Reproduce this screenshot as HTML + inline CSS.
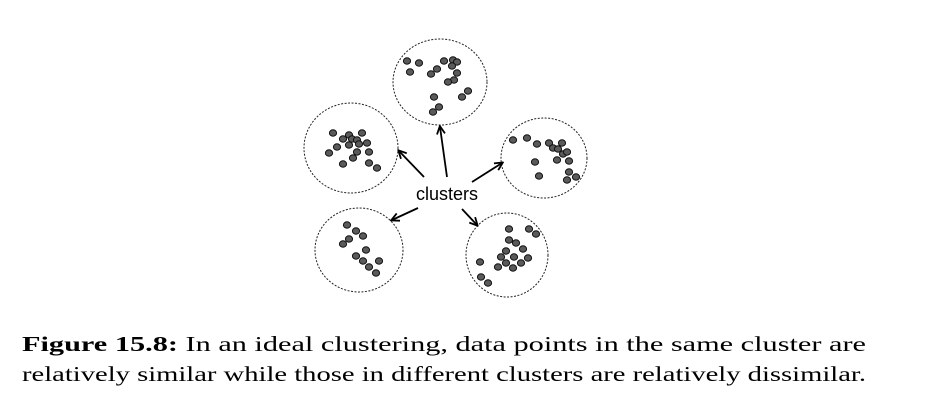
<!DOCTYPE html>
<html><head><meta charset="utf-8"><style>
html,body{margin:0;padding:0;background:#fff;width:934px;height:407px;overflow:hidden}
</style></head><body>
<svg width="934" height="407" viewBox="0 0 934 407" xmlns="http://www.w3.org/2000/svg">
<defs>
<marker id="ah" markerWidth="10" markerHeight="10" refX="8" refY="5" orient="auto" markerUnits="userSpaceOnUse">
<path d="M1,1 L9,5 L1,9" fill="none" stroke="#000" stroke-width="1.8"/>
</marker>
</defs>
<g fill="none" stroke="#222" stroke-width="1" stroke-dasharray="2,1.5">
<ellipse cx="440" cy="82" rx="47" ry="43"/>
<ellipse cx="351" cy="148" rx="47" ry="45"/>
<ellipse cx="544" cy="158" rx="43" ry="40"/>
<ellipse cx="359" cy="250" rx="44" ry="42"/>
<ellipse cx="507" cy="255" rx="41" ry="42"/>
</g>
<g fill="#5a5a5a" stroke="#111" stroke-width="1">
<ellipse cx="407" cy="61" rx="3.6" ry="3.2"/><ellipse cx="419" cy="63" rx="3.6" ry="3.2"/><ellipse cx="410" cy="72" rx="3.6" ry="3.2"/><ellipse cx="444" cy="61" rx="3.6" ry="3.2"/><ellipse cx="453" cy="60" rx="3.6" ry="3.2"/><ellipse cx="457" cy="62" rx="3.6" ry="3.2"/><ellipse cx="452" cy="66" rx="3.6" ry="3.2"/><ellipse cx="437" cy="69" rx="3.6" ry="3.2"/><ellipse cx="431" cy="74" rx="3.6" ry="3.2"/><ellipse cx="457" cy="73" rx="3.6" ry="3.2"/><ellipse cx="454" cy="80" rx="3.6" ry="3.2"/><ellipse cx="448" cy="82" rx="3.6" ry="3.2"/><ellipse cx="468" cy="91" rx="3.6" ry="3.2"/><ellipse cx="462" cy="97" rx="3.6" ry="3.2"/><ellipse cx="434" cy="97" rx="3.6" ry="3.2"/><ellipse cx="439" cy="107" rx="3.6" ry="3.2"/><ellipse cx="433" cy="112" rx="3.6" ry="3.2"/>
<ellipse cx="333" cy="133" rx="3.6" ry="3.2"/><ellipse cx="343" cy="139" rx="3.6" ry="3.2"/><ellipse cx="349" cy="135" rx="3.6" ry="3.2"/><ellipse cx="362" cy="133" rx="3.6" ry="3.2"/><ellipse cx="352" cy="139" rx="3.6" ry="3.2"/><ellipse cx="357" cy="140" rx="3.6" ry="3.2"/><ellipse cx="367" cy="143" rx="3.6" ry="3.2"/><ellipse cx="349" cy="145" rx="3.6" ry="3.2"/><ellipse cx="359" cy="144" rx="3.6" ry="3.2"/><ellipse cx="337" cy="147" rx="3.6" ry="3.2"/><ellipse cx="329" cy="153" rx="3.6" ry="3.2"/><ellipse cx="357" cy="152" rx="3.6" ry="3.2"/><ellipse cx="369" cy="152" rx="3.6" ry="3.2"/><ellipse cx="353" cy="158" rx="3.6" ry="3.2"/><ellipse cx="343" cy="164" rx="3.6" ry="3.2"/><ellipse cx="369" cy="163" rx="3.6" ry="3.2"/><ellipse cx="377" cy="168" rx="3.6" ry="3.2"/>
<ellipse cx="513" cy="140" rx="3.6" ry="3.2"/><ellipse cx="527" cy="138" rx="3.6" ry="3.2"/><ellipse cx="537" cy="144" rx="3.6" ry="3.2"/><ellipse cx="549" cy="143" rx="3.6" ry="3.2"/><ellipse cx="553" cy="148" rx="3.6" ry="3.2"/><ellipse cx="562" cy="143" rx="3.6" ry="3.2"/><ellipse cx="558" cy="149" rx="3.6" ry="3.2"/><ellipse cx="563" cy="154" rx="3.6" ry="3.2"/><ellipse cx="567" cy="152" rx="3.6" ry="3.2"/><ellipse cx="557" cy="160" rx="3.6" ry="3.2"/><ellipse cx="569" cy="161" rx="3.6" ry="3.2"/><ellipse cx="535" cy="162" rx="3.6" ry="3.2"/><ellipse cx="539" cy="176" rx="3.6" ry="3.2"/><ellipse cx="569" cy="172" rx="3.6" ry="3.2"/><ellipse cx="567" cy="180" rx="3.6" ry="3.2"/><ellipse cx="576" cy="177" rx="3.6" ry="3.2"/>
<ellipse cx="347" cy="225" rx="3.6" ry="3.2"/><ellipse cx="356" cy="231" rx="3.6" ry="3.2"/><ellipse cx="349" cy="239" rx="3.6" ry="3.2"/><ellipse cx="363" cy="236" rx="3.6" ry="3.2"/><ellipse cx="343" cy="244" rx="3.6" ry="3.2"/><ellipse cx="366" cy="250" rx="3.6" ry="3.2"/><ellipse cx="356" cy="256" rx="3.6" ry="3.2"/><ellipse cx="363" cy="261" rx="3.6" ry="3.2"/><ellipse cx="379" cy="261" rx="3.6" ry="3.2"/><ellipse cx="369" cy="267" rx="3.6" ry="3.2"/><ellipse cx="376" cy="273" rx="3.6" ry="3.2"/>
<ellipse cx="509" cy="229" rx="3.6" ry="3.2"/><ellipse cx="529" cy="229" rx="3.6" ry="3.2"/><ellipse cx="536" cy="234" rx="3.6" ry="3.2"/><ellipse cx="509" cy="240" rx="3.6" ry="3.2"/><ellipse cx="516" cy="243" rx="3.6" ry="3.2"/><ellipse cx="523" cy="249" rx="3.6" ry="3.2"/><ellipse cx="506" cy="251" rx="3.6" ry="3.2"/><ellipse cx="501" cy="257" rx="3.6" ry="3.2"/><ellipse cx="514" cy="257" rx="3.6" ry="3.2"/><ellipse cx="528" cy="258" rx="3.6" ry="3.2"/><ellipse cx="506" cy="263" rx="3.6" ry="3.2"/><ellipse cx="521" cy="263" rx="3.6" ry="3.2"/><ellipse cx="498" cy="267" rx="3.6" ry="3.2"/><ellipse cx="513" cy="268" rx="3.6" ry="3.2"/><ellipse cx="480" cy="262" rx="3.6" ry="3.2"/><ellipse cx="481" cy="277" rx="3.6" ry="3.2"/><ellipse cx="488" cy="283" rx="3.6" ry="3.2"/>
</g>
<g stroke="#000" stroke-width="1.8" marker-end="url(#ah)">
<line x1="424" y1="177" x2="399" y2="151"/>
<line x1="447" y1="177" x2="440" y2="127"/>
<line x1="472" y1="182" x2="502" y2="163"/>
<line x1="418" y1="208" x2="392" y2="220"/>
<line x1="462" y1="209" x2="477" y2="225"/>
</g>
<text x="447" y="200" text-anchor="middle" font-family="Liberation Sans, sans-serif" font-size="18">clusters</text>
<g font-family="Liberation Serif, serif" font-size="21">
<text x="22" y="351" textLength="844" lengthAdjust="spacingAndGlyphs"><tspan font-weight="bold">Figure 15.8:</tspan> In an ideal clustering, data points in the same cluster are</text>
<text x="22" y="381" textLength="844" lengthAdjust="spacingAndGlyphs">relatively similar while those in different clusters are relatively dissimilar.</text>
</g>
</svg>
</body></html>
